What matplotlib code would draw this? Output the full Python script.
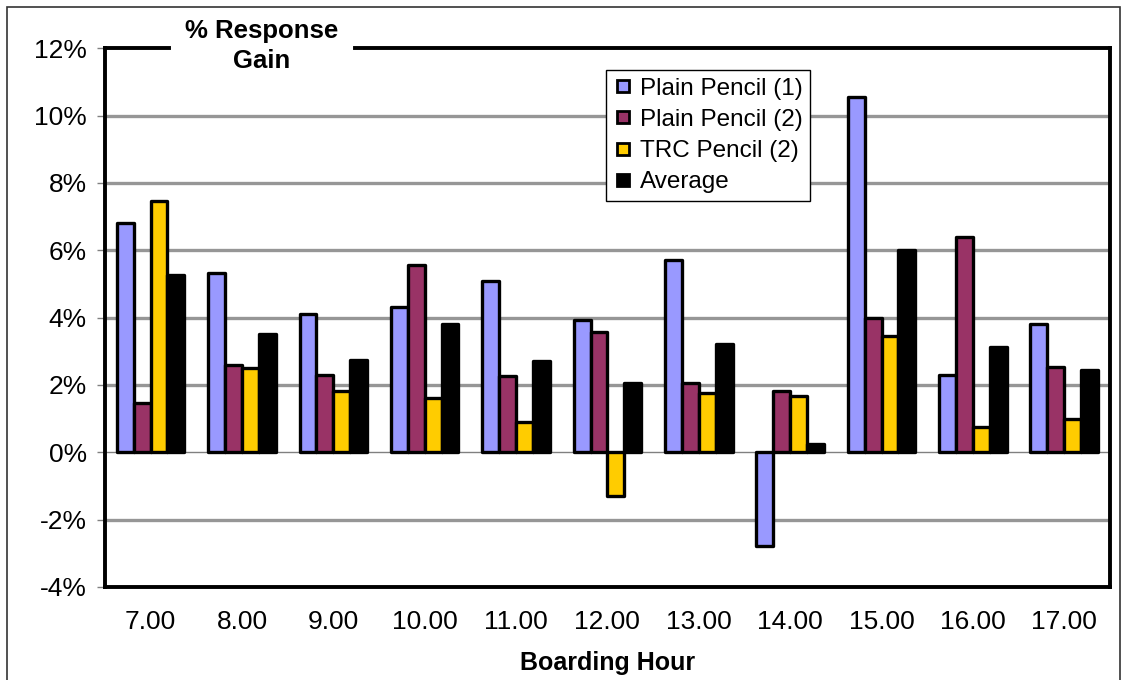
import matplotlib.pyplot as plt
import numpy as np
from matplotlib.lines import Line2D
from matplotlib.patches import Rectangle

plt.rcParams['font.family'] = ['Liberation Sans', 'DejaVu Sans']

# Boarding hours and % response gain per series
hours = ["7.00", "8.00", "9.00", "10.00", "11.00", "12.00",
         "13.00", "14.00", "15.00", "16.00", "17.00"]
plain_pencil_1 = [6.8, 5.32, 4.1, 4.32, 5.1, 3.94, 5.7, -2.8, 10.56, 2.28, 3.8]
plain_pencil_2 = [1.45, 2.58, 2.28, 5.55, 2.25, 3.57, 2.05, 1.82, 4.0, 6.38, 2.52]
trc_pencil_2 = [7.45, 2.49, 1.82, 1.6, 0.9, -1.3, 1.75, 1.66, 3.44, 0.74, 0.98]
average = [5.25, 3.5, 2.73, 3.8, 2.72, 2.06, 3.2, 0.24, 6.0, 3.12, 2.43]

series = [("Plain Pencil (1)", plain_pencil_1, "#9999FF"),
          ("Plain Pencil (2)", plain_pencil_2, "#993366"),
          ("TRC Pencil (2)", trc_pencil_2, "#FFCC00"),
          ("Average", average, "#000000")]

yticks = [-4, -2, 0, 2, 4, 6, 8, 10, 12]

fig = plt.figure(figsize=(11.28, 6.8), dpi=100)
ax = fig.add_axes([0.093, 0.137, 0.891, 0.792])

x = np.arange(len(hours))
width = 0.185
for i, (name, vals, color) in enumerate(series):
    ax.bar(x + (i - 1.5) * width, vals, width, color=color,
           edgecolor="black", linewidth=2.4, joinstyle="round", zorder=3)

# gridlines and the zero line
for y in yticks[1:-1]:
    if y != 0:
        ax.axhline(y, color="#969696", linewidth=2.4, zorder=1)
ax.axhline(0, color="#808080", linewidth=1.0, zorder=2)

ax.set_xlim(-0.5, len(hours) - 0.5)
ax.set_ylim(-4, 12)
ax.set_yticks(yticks)
ax.set_yticklabels([f"{v}%" for v in yticks], fontsize=19)
ax.set_xticks(x)
ax.set_xticklabels(hours, fontsize=19)
ax.tick_params(axis="x", length=0, pad=17)
ax.tick_params(axis="y", length=6, width=1, color="#808080", pad=7)

for side in ["left", "bottom", "right"]:
    ax.spines[side].set_linewidth(2.8)
    ax.spines[side].set_color("black")
ax.spines["top"].set_visible(False)
# top border, broken by the title
ax.plot([0, 0.064], [1, 1], color="black", linewidth=2.8,
        transform=ax.transAxes, clip_on=False, solid_capstyle="projecting")
ax.plot([0.249, 1], [1, 1], color="black", linewidth=2.8,
        transform=ax.transAxes, clip_on=False, solid_capstyle="projecting")

ax.set_xlabel("Boarding Hour", fontsize=18, fontweight="bold", labelpad=12)

fig.text(0.232, 0.932, "% Response\nGain", ha="center", va="center",
         fontsize=18.5, fontweight="bold", linespacing=1.3)

handles = [Line2D([], [], marker="s", linestyle="none", markersize=9,
                  markerfacecolor=c, markeredgecolor="black",
                  markeredgewidth=2) for _, _, c in series]
leg = ax.legend(handles, [s[0] for s in series], loc="upper left",
                bbox_to_anchor=(0.4985, 0.959), borderaxespad=0,
                fontsize=17.5, handlelength=0.8, handletextpad=0.3,
                labelspacing=0.38, borderpad=0.3, fancybox=False,
                framealpha=1, edgecolor="black")
leg.get_frame().set_linewidth(1.0)
leg.set_zorder(5)

# outer border of the chart area
fig.patches.append(Rectangle((0.006, -0.02), 0.987, 1.01,
                             transform=fig.transFigure, fill=False,
                             edgecolor="#333333", linewidth=1.2))

plt.savefig("out.png", dpi=100)
